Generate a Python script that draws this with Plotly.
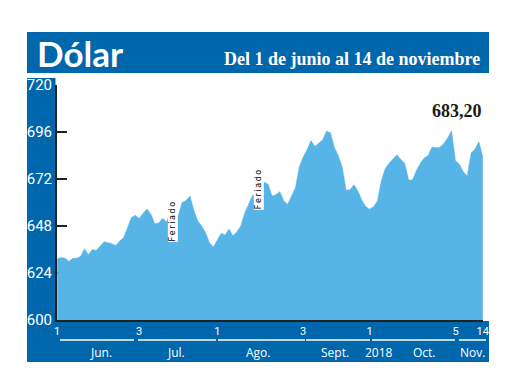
import plotly.graph_objects as go

# ---- data ----
values = [
    631.2, 631.9, 631.5, 630.0, 631.5, 631.5, 632.5, 636.4, 633.3, 636.0,
    635.5, 638.0, 640.0, 639.5, 639.0, 638.0, 640.3, 642.0, 647.5, 652.2,
    653.5, 651.8, 654.5, 656.7, 654.0, 649.2, 649.5, 652.0, 650.0, 655.0,
    653.5, 653.3, 660.0, 661.0, 663.3, 656.0, 650.5, 648.0, 644.5, 639.5,
    637.3, 640.5, 644.3, 643.4, 646.5, 643.0, 645.0, 648.0, 654.5, 659.0,
    663.5, 664.7, 666.5, 670.3, 669.5, 663.3, 664.0, 665.5, 661.0, 659.0,
    663.5, 667.5, 678.3, 683.2, 687.0, 691.6, 688.6, 690.1, 692.0, 696.5,
    695.5, 688.0, 684.0, 678.0, 666.3, 666.5, 669.1, 666.0, 661.3, 658.0,
    656.6, 657.8, 660.7, 671.0, 677.2, 680.0, 682.0, 684.4, 682.0, 680.0,
    671.5, 671.5, 676.4, 680.0, 682.7, 684.0, 688.3, 688.0, 688.2, 690.0,
    693.0, 696.7, 681.3, 679.5, 675.7, 673.5, 685.2, 687.3, 691.0, 683.2,
]
x_idx = list(range(len(values)))

x_tick_idx = [0, 21, 41, 63, 80, 102, 109]
x_tick_text = ["1", "3", "1", "3", "1", "5", "14"]
y_ticks = [600, 624, 648, 672, 696, 720]
month_labels = ["Jun.", "Jul.", "Ago.", "Sept.", "2018", "Oct.", "Nov."]
holiday_idx = [29.5, 51.5]
holiday_text = "Feriado"
last_label = "683,20"
title = "Dólar"
subtitle = "Del 1 de junio al 14 de noviembre"

# ---- layout helpers (screen pixel -> paper); page body has an 8px margin ----
OFF = 8
L, R, T, B = 57, 483, 85, 320
W, H = 520, 390
def px(x):
    return (x - L) / (R - L)
def py(y):
    return (B - y) / (B - T)

DARK = "#0067AC"
LIGHT = "#56B5E6"
NARROW = "Liberation Sans Narrow, Roboto, sans-serif"

fig = go.Figure()
fig.add_trace(go.Scatter(
    x=x_idx, y=values, mode="lines", line=dict(color=LIGHT, width=0.5),
    fill="tozeroy", fillcolor=LIGHT, hoverinfo="skip", showlegend=False,
))

shapes = []
def rect(x0, y0, x1, y1, color):
    shapes.append(dict(type="rect", xref="paper", yref="paper",
                       x0=px(x0), x1=px(x1), y0=py(y1), y1=py(y0),
                       fillcolor=color, line=dict(width=0), layer="below"))
rect(27, 32, 489, 73, DARK)       # header
rect(27, 78, 55.5, 362, DARK)     # left panel
rect(27, 321, 489, 362, DARK)     # bottom band

def hline(x0, x1, y, color, w):
    shapes.append(dict(type="line", xref="paper", yref="paper",
                       x0=px(x0), x1=px(x1), y0=py(y), y1=py(y),
                       line=dict(color=color, width=w), layer="above"))
for a, b in [(60, 134), (138, 216), (218, 305), (306, 370), (372, 455), (459, 486)]:
    hline(a, b, 340, "white", 1.5)

annotations = []
annotations.append(dict(xref="paper", yref="paper", x=px(35), y=py(53),
                        xanchor="left", yanchor="middle", text="<b>" + title + "</b>",
                        showarrow=False, font=dict(family="Lato", size=35, color="white")))
annotations.append(dict(xref="paper", yref="paper", x=px(482), y=py(59),
                        xanchor="right", yanchor="middle", text="<b>" + subtitle + "</b>",
                        showarrow=False, font=dict(family="Liberation Serif", size=18, color="white")))
annotations.append(dict(xref="paper", yref="paper", x=px(457), y=py(111),
                        xanchor="center", yanchor="middle", text="<b>" + last_label + "</b>",
                        showarrow=False, font=dict(family="Liberation Serif", size=18, color="#1a1a1a")))
for xm, lab in zip([101, 176, 258, 335, 379, 424, 472], month_labels):
    annotations.append(dict(xref="paper", yref="paper", x=px(xm), y=py(352),
                            xanchor="center", yanchor="middle", text=lab, showarrow=False,
                            font=dict(family="Open Sans", size=12, color="white")))
spaced = "\u2009".join(holiday_text)
for hx, hy in zip(holiday_idx, [221, 189]):
    annotations.append(dict(xref="x", yref="paper", x=hx, y=py(hy),
                            xanchor="center", yanchor="middle", text=spaced, textangle=-90,
                            showarrow=False, bgcolor="white", borderpad=0,
                            font=dict(family="DejaVu Sans", size=8, color="black")))

fig.update_layout(
    width=W, height=H,
    margin=dict(l=L - OFF, r=W - (R - OFF), t=T - OFF, b=H - (B - OFF), pad=0),
    paper_bgcolor="white", plot_bgcolor="white",
    shapes=shapes, annotations=annotations, showlegend=False,
    xaxis=dict(range=[-0.05, 109.05], tickvals=x_tick_idx, ticktext=x_tick_text,
               showgrid=False, zeroline=False, showline=True, linecolor="#222",
               linewidth=2, ticks="", tickfont=dict(family=NARROW, size=11, color="white"),
               fixedrange=True),
    yaxis=dict(range=[600, 720], tickvals=y_ticks, showgrid=False, zeroline=False,
               showline=True, linecolor="#222", linewidth=2, ticks="inside",
               ticklen=10, tickwidth=2, tickcolor="#222", layer="below traces",
               tickfont=dict(family=NARROW, size=15, color="white"),
               fixedrange=True),
)

fig.write_html("out.html")
